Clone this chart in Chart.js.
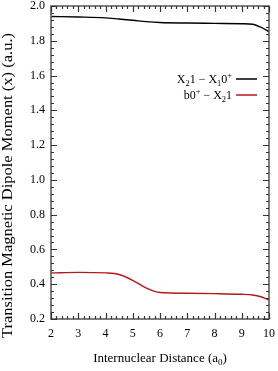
<!DOCTYPE html>
<html>
<head>
<meta charset="utf-8">
<script src="https://cdn.jsdelivr.net/npm/chart.js@4"></script>
<style>
  html, body { margin: 0; padding: 0; background: #fff; }
  #wrap { width: 278px; height: 371px; }
</style>
</head>
<body>
<div id="wrap"><canvas id="dipoleChart"></canvas></div>
<script>
// internuclear distance (a0)
const distance = [2, 3, 4, 4.5, 5, 5.5, 6, 7, 8, 9, 9.4, 9.7, 10];

// X21 - X10+ transition moment
const x21ToX10 = [1.940, 1.937, 1.932, 1.925, 1.918, 1.910, 1.905, 1.902, 1.900, 1.898, 1.895, 1.878, 1.853];

// b0+ - X21 transition moment
const b0ToX21 = [0.465, 0.468, 0.465, 0.456, 0.422, 0.378, 0.352, 0.348, 0.346, 0.342, 0.338, 0.328, 0.310];

const xTitle = 'Internuclear Distance (a₀)';
const yTitle = 'Transition Magnetic Dipole Moment (x) (a.u.)';

const serif = '"Liberation Serif", "Times New Roman", serif';

// draw text where subscript / superscript glyphs are shifted smaller
const subMap = { '₀': '0', '₁': '1', '₂': '2' };
const supMap = { '⁺': '+' };
function richWidth(ctx, str, size) {
    let w = 0;
    for (const ch of str) {
        if (subMap[ch] || supMap[ch]) {
            ctx.font = (size * 0.7) + 'px ' + serif;
            w += ctx.measureText(subMap[ch] || supMap[ch]).width;
        } else {
            ctx.font = size + 'px ' + serif;
            w += ctx.measureText(ch).width;
        }
    }
    return w;
}
function drawRich(ctx, str, x, y, size) {
    let cx = x;
    ctx.textBaseline = 'alphabetic';
    ctx.textAlign = 'left';
    for (const ch of str) {
        if (subMap[ch]) {
            ctx.font = (size * 0.7) + 'px ' + serif;
            ctx.fillText(subMap[ch], cx, y + size * 0.25);
            cx += ctx.measureText(subMap[ch]).width;
        } else if (supMap[ch]) {
            ctx.font = (size * 0.7) + 'px ' + serif;
            ctx.fillText(supMap[ch], cx, y - size * 0.4);
            cx += ctx.measureText(supMap[ch]).width;
        } else {
            ctx.font = size + 'px ' + serif;
            ctx.fillText(ch, cx, y);
            cx += ctx.measureText(ch).width;
        }
    }
}

// frame, inward ticks on all four sides, legend, axis titles
const framePlugin = {
    id: 'frame',
    afterDraw(chart) {
        const ctx = chart.ctx;
        const { left, right, top, bottom } = chart.chartArea;
        const xs = chart.scales.x, ys = chart.scales.y;
        ctx.save();
        ctx.strokeStyle = '#555';
        ctx.lineWidth = 1.5;
        ctx.strokeRect(left, top, right - left, bottom - top);

        ctx.lineWidth = 1.2;
        ctx.strokeStyle = '#333';
        ctx.beginPath();
        for (let i = 0; i <= 40; i++) {
            const px = Math.round(xs.getPixelForValue(2 + i * 0.2)) + 0.5;
            const len = i % 5 === 0 ? 6 : 3;
            ctx.moveTo(px, bottom); ctx.lineTo(px, bottom - len);
            ctx.moveTo(px, top); ctx.lineTo(px, top + len);
        }
        for (let i = 0; i <= 45; i++) {
            const py = Math.round(ys.getPixelForValue(0.2 + i * 0.04)) + 0.5;
            const len = i % 5 === 0 ? 6 : 3;
            ctx.moveTo(left, py); ctx.lineTo(left + len, py);
            ctx.moveTo(right, py); ctx.lineTo(right - len, py);
        }
        ctx.stroke();

        // legend: text right aligned, sample line on the right
        ctx.fillStyle = '#000';
        chart.data.datasets.forEach((ds, i) => {
            const ly = 79 + i * 16;
            const w = richWidth(ctx, ds.label, 12);
            drawRich(ctx, ds.label, 232 - w, ly + 4, 12);
            ctx.strokeStyle = ds.borderColor;
            ctx.lineWidth = 1.5;
            ctx.beginPath();
            ctx.moveTo(236, ly); ctx.lineTo(257, ly);
            ctx.stroke();
        });

        // x axis title
        const tw = richWidth(ctx, xTitle, 13);
        drawRich(ctx, xTitle, (left + right) / 2 - tw / 2, 362, 13);

        // y axis title, rotated, stretched to the reference length
        ctx.font = '14px ' + serif;
        const yw = ctx.measureText(yTitle).width;
        ctx.translate(8.5, 185.5);
        ctx.rotate(-Math.PI / 2);
        ctx.scale(305 / yw, 1);
        ctx.textAlign = 'center';
        ctx.textBaseline = 'middle';
        ctx.fillText(yTitle, 0, 0);
        ctx.restore();
    }
};

new Chart(document.getElementById('dipoleChart'), {
    type: 'line',
    data: {
        labels: distance,
        datasets: [{
            label: 'X₂1 − X₁0⁺',
            data: distance.map((d, i) => ({ x: d, y: x21ToX10[i] })),
            borderColor: '#000000',
            borderWidth: 1.4,
            pointRadius: 0,
            cubicInterpolationMode: 'monotone',
        }, {
            label: 'b0⁺ − X₂1',
            data: distance.map((d, i) => ({ x: d, y: b0ToX21[i] })),
            borderColor: '#b3191c',
            borderWidth: 1.4,
            pointRadius: 0,
            cubicInterpolationMode: 'monotone',
        }],
    },
    options: {
        responsive: true,
        maintainAspectRatio: false,
        animation: false,
        layout: { padding: { top: 6, right: 9, left: 0, bottom: 21.6 } },
        plugins: {
            legend: { display: false },
            tooltip: { enabled: false },
        },
        scales: {
            x: {
                type: 'linear',
                min: 2,
                max: 10,
                grid: { display: false, drawTicks: false },
                border: { display: false },
                ticks: {
                    stepSize: 1,
                    padding: 8,
                    maxRotation: 0,
                    color: '#000',
                    font: { family: serif, size: 12 },
                },
                afterFit(scale) {
                    scale.paddingLeft = 0; scale.paddingRight = 0;
                },
            },
            y: {
                min: 0.2,
                max: 2.0,
                grid: { display: false, drawTicks: false },
                border: { display: false },
                ticks: {
                    stepSize: 0.2,
                    padding: 6,
                    color: '#000',
                    font: { family: serif, size: 12 },
                    callback: v => v.toFixed(1),
                },
                afterFit(scale) {
                    scale.width = 51;
                    scale.paddingTop = 0; scale.paddingBottom = 0;
                },
            },
        },
    },
    plugins: [framePlugin],
});
</script>
</body>
</html>
